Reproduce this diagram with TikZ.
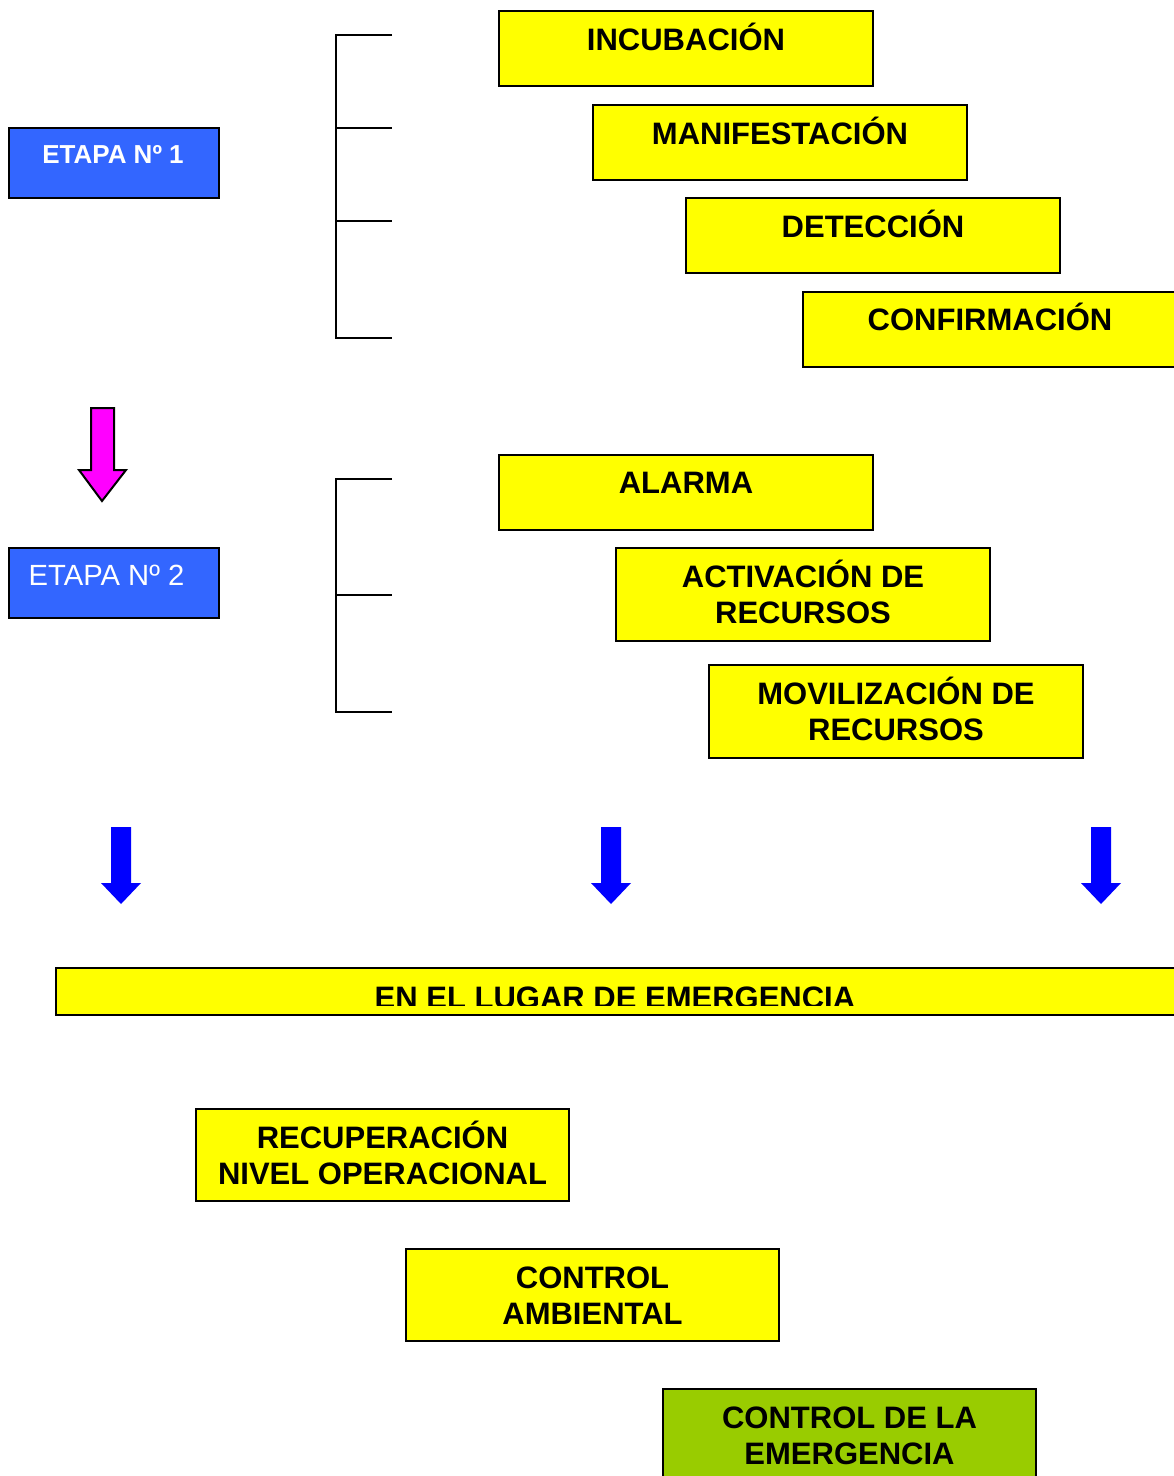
\documentclass[tikz,border=0pt]{standalone}
\usepackage{fontspec}
\setmainfont{Liberation Sans}
\definecolor{boxyellow}{HTML}{FFFF00}
\definecolor{boxblue}{HTML}{3366FF}
\definecolor{boxgreen}{HTML}{99CC00}
\definecolor{arrowblue}{HTML}{0000FF}
\definecolor{arrowpink}{HTML}{FF00FF}
\begin{document}
\begin{tikzpicture}[x=1pt,y=-1pt,
  ybox/.style={draw=black,line width=2pt,fill=boxyellow,inner sep=0pt,minimum width=374pt,minimum height=75pt},
  ybox2/.style={ybox,minimum height=93pt},
  gbox/.style={ybox2,fill=boxgreen},
  bbox/.style={draw=black,line width=2pt,fill=boxblue,inner sep=0pt,minimum width=210pt,minimum height=70pt},
  btxt/.style={font=\fontsize{31}{36.5}\selectfont\bfseries,align=center,inner sep=0pt,anchor=north},
  etxt/.style={text=white,inner sep=0pt,anchor=base},
  brk/.style={line width=2pt,black},
  pinkarrow/.style={draw=black,line width=2pt,fill=arrowpink,line join=miter},
  bluearrow/.style={fill=arrowblue,draw=none}
]
\useasboundingbox (0,0) rectangle (1174,1476);
\clip (0,0) rectangle (1174,1476);

% --- Stage 1 boxes
\node[ybox] (inc) at (686,48.5) {};
\node[btxt] (incT) at ([yshift=-10pt]inc.north) {\rule{0pt}{30pt}INCUBACIÓN};
\node[ybox] (man) at (780,142.5) {};
\node[btxt] (manT) at ([yshift=-10pt]man.north) {\rule{0pt}{30pt}MANIFESTACIÓN};
\node[ybox] (det) at (873,235.5) {};
\node[btxt] (detT) at ([yshift=-10pt]det.north) {\rule{0pt}{30pt}DETECCIÓN};
\node[ybox] (conf) at (990,329) {};
\node[btxt] (confT) at ([yshift=-10pt]conf.north) {\rule{0pt}{30pt}CONFIRMACIÓN};

% --- Stage 1 label
\node[bbox] (et1) at (114,163) {};
\node[etxt,font=\fontsize{26}{30}\selectfont\bfseries] (et1T) at (113,163) {ETAPA Nº 1};

% --- Bracket 1
\coordinate (b1a) at (336,35);
\coordinate (b1b) at (336,128);
\coordinate (b1c) at (336,221);
\coordinate (b1d) at (336,338);
\draw[brk] (392,35) -- (b1a) -- (b1d) -- (392,338);
\draw[brk] (b1b) -- (392,128);
\draw[brk] (b1c) -- (392,221);

% --- Pink arrow
\draw[pinkarrow] (91,408) -- (114,408) -- (114,470) -- (126,470) -- (102,501) -- (79,470) -- (91,470) -- cycle;

% --- Stage 2 label
\node[bbox] (et2) at (114,583) {};
\node[etxt,font=\fontsize{29.2}{34}\selectfont] (et2T) at (106.5,585) {ETAPA Nº 2};

% --- Bracket 2
\coordinate (b2a) at (336,479);
\coordinate (b2b) at (336,595);
\coordinate (b2c) at (336,712);
\draw[brk] (392,479) -- (b2a) -- (b2c) -- (392,712);
\draw[brk] (b2b) -- (392,595);

% --- Stage 2 boxes
\node[ybox] (ala) at (686,492) {};
\node[btxt] (alaT) at ([yshift=-10pt]ala.north) {\rule{0pt}{30pt}ALARMA};
\node[ybox2] (act) at (803,594.5) {};
\node[btxt] (actT) at ([yshift=-10pt]act.north) {\rule{0pt}{30pt}ACTIVACIÓN DE\\RECURSOS};
\node[ybox2] (mov) at (896,711.5) {};
\node[btxt] (movT) at ([yshift=-10pt]mov.north) {\rule{0pt}{30pt}MOVILIZACIÓN DE\\RECURSOS};

% --- Blue arrows
\foreach \cx in {121,611,1101}{
  \fill[bluearrow] (\cx-10,827) -- (\cx+10,827) -- (\cx+10,883) -- (\cx+20,883) -- (\cx,904) -- (\cx-20,883) -- (\cx-10,883) -- cycle;
}

% --- Long bar
\node[ybox,minimum width=1124pt,minimum height=47pt] (lug) at (618,991.5) {};
\begin{scope}
  \clip (56,968) rectangle (1174,1005);
  \node[inner sep=0pt,anchor=base,font=\fontsize{31}{36}\selectfont\bfseries] (lugT) at (615,1008) {EN EL LUGAR DE EMERGENCIA};
\end{scope}

% --- Lower boxes
\node[ybox2,minimum width=373pt,minimum height=92pt] (rec) at (382.5,1155) {};
\node[btxt] (recT) at ([yshift=-10pt]rec.north) {\rule{0pt}{30pt}RECUPERACIÓN\\NIVEL OPERACIONAL};
\node[ybox2,minimum width=373pt,minimum height=92pt] (amb) at (592.5,1295) {};
\node[btxt] (ambT) at ([yshift=-10pt]amb.north) {\rule{0pt}{30pt}CONTROL\\AMBIENTAL};
\node[gbox,minimum width=373pt,minimum height=92pt] (ctl) at (849.5,1435) {};
\node[btxt] (ctlT) at ([yshift=-10pt]ctl.north) {\rule{0pt}{30pt}CONTROL DE LA\\EMERGENCIA};
\end{tikzpicture}
\end{document}
